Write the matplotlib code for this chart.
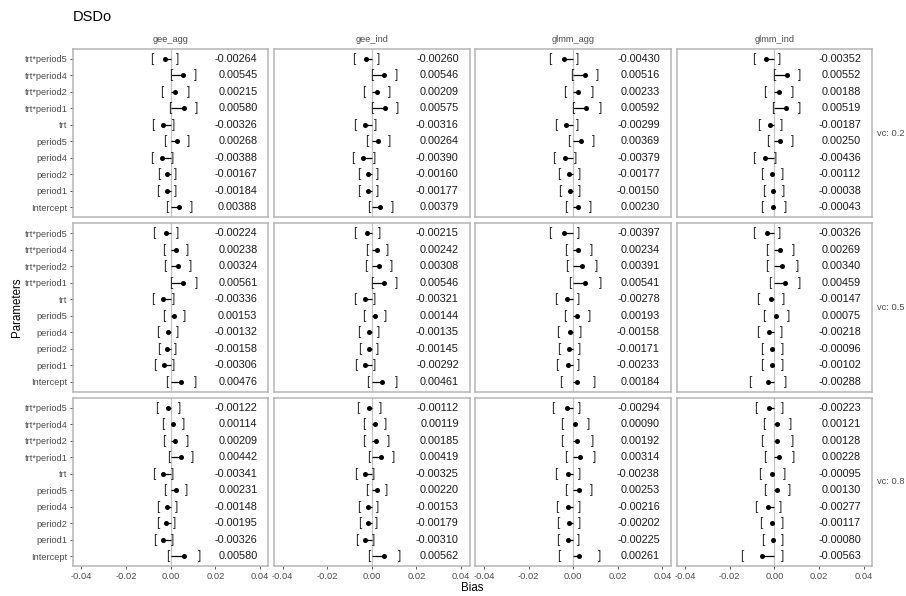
import numpy as np
import matplotlib
matplotlib.use("Agg")
import matplotlib.pyplot as plt

plt.rcParams['font.family'] = ['Liberation Sans', 'DejaVu Sans']

# parameters, listed top to bottom as they appear in each panel
params = ["trt*period5", "trt*period4", "trt*period2", "trt*period1", "trt",
          "period5", "period4", "period2", "period1", "Intercept"]
methods = ["gee_agg", "gee_ind", "glmm_agg", "glmm_ind"]
vc_labels = ["vc: 0.2", "vc: 0.5", "vc: 0.8"]

# bias estimates (rows = vc, one list per method)
bias_vc02 = {
    "gee_agg": [-0.00264, 0.00545, 0.00215, 0.00580, -0.00326, 0.00268, -0.00388, -0.00167, -0.00184, 0.00388],
    "gee_ind": [-0.00260, 0.00546, 0.00209, 0.00575, -0.00316, 0.00264, -0.00390, -0.00160, -0.00177, 0.00379],
    "glmm_agg": [-0.00430, 0.00516, 0.00233, 0.00592, -0.00299, 0.00369, -0.00379, -0.00177, -0.00150, 0.00230],
    "glmm_ind": [-0.00352, 0.00552, 0.00188, 0.00519, -0.00187, 0.00250, -0.00436, -0.00112, -0.00038, -0.00043],
}
bias_vc05 = {
    "gee_agg": [-0.00224, 0.00238, 0.00324, 0.00561, -0.00336, 0.00153, -0.00132, -0.00158, -0.00306, 0.00476],
    "gee_ind": [-0.00215, 0.00242, 0.00308, 0.00546, -0.00321, 0.00144, -0.00135, -0.00145, -0.00292, 0.00461],
    "glmm_agg": [-0.00397, 0.00234, 0.00391, 0.00541, -0.00278, 0.00193, -0.00158, -0.00171, -0.00233, 0.00184],
    "glmm_ind": [-0.00326, 0.00269, 0.00340, 0.00459, -0.00147, 0.00075, -0.00218, -0.00096, -0.00102, -0.00288],
}
bias_vc08 = {
    "gee_agg": [-0.00122, 0.00114, 0.00209, 0.00442, -0.00341, 0.00231, -0.00148, -0.00195, -0.00326, 0.00580],
    "gee_ind": [-0.00112, 0.00119, 0.00185, 0.00419, -0.00325, 0.00220, -0.00153, -0.00179, -0.00310, 0.00562],
    "glmm_agg": [-0.00294, 0.00090, 0.00192, 0.00314, -0.00238, 0.00253, -0.00216, -0.00202, -0.00225, 0.00261],
    "glmm_ind": [-0.00223, 0.00121, 0.00128, 0.00228, -0.00095, 0.00130, -0.00277, -0.00117, -0.00080, -0.00563],
}

# half width of the interval shown by the brackets
half_vc02 = {
    "gee_agg": [0.0057, 0.0056, 0.0060, 0.0060, 0.0047, 0.0052, 0.0048, 0.0039, 0.0039, 0.0055],
    "gee_ind": [0.0057, 0.0054, 0.0058, 0.0057, 0.0047, 0.0051, 0.0049, 0.0041, 0.0041, 0.0053],
    "glmm_agg": [0.0061, 0.0056, 0.0063, 0.0062, 0.0049, 0.0056, 0.0051, 0.0045, 0.0045, 0.0054],
    "glmm_ind": [0.0058, 0.0058, 0.0061, 0.0060, 0.0049, 0.0055, 0.0049, 0.0046, 0.0043, 0.0054],
}
half_vc05 = {
    "gee_agg": [0.0054, 0.0053, 0.0057, 0.0058, 0.0045, 0.0048, 0.0043, 0.0039, 0.0042, 0.0064],
    "gee_ind": [0.0055, 0.0046, 0.0057, 0.0057, 0.0045, 0.0049, 0.0044, 0.0042, 0.0041, 0.0063],
    "glmm_agg": [0.0063, 0.0058, 0.0068, 0.0069, 0.0052, 0.0055, 0.0051, 0.0048, 0.0049, 0.0076],
    "glmm_ind": [0.0058, 0.0061, 0.0069, 0.0068, 0.0058, 0.0057, 0.0054, 0.0046, 0.0046, 0.0080],
}
half_vc08 = {
    "gee_agg": [0.0051, 0.0046, 0.0054, 0.0054, 0.0041, 0.0048, 0.0043, 0.0038, 0.0039, 0.0070],
    "gee_ind": [0.0050, 0.0048, 0.0055, 0.0054, 0.0041, 0.0046, 0.0042, 0.0038, 0.0038, 0.0069],
    "glmm_agg": [0.0060, 0.0061, 0.0068, 0.0066, 0.0052, 0.0057, 0.0052, 0.0048, 0.0047, 0.0092],
    "glmm_ind": [0.0060, 0.0060, 0.0071, 0.0065, 0.0054, 0.0057, 0.0056, 0.0049, 0.0046, 0.0092],
}

bias_rows = [bias_vc02, bias_vc05, bias_vc08]
half_rows = [half_vc02, half_vc05, half_vc08]

xticks = [-0.04, -0.02, 0.00, 0.02, 0.04]
xtick_labels = ["-0.04", "-0.02", "0.00", "0.02", "0.04"]

grey_txt = '#4d4d4d'
border = '#b5b5b5'

fig, axes = plt.subplots(3, 4, figsize=(9.06, 5.96), dpi=100, sharex=True, sharey=True)
fig.subplots_adjust(left=73 / 906, right=872 / 906, top=1 - 49 / 596, bottom=1 - 566 / 596,
                    wspace=0.03, hspace=0.037)

ypos = np.arange(len(params))[::-1] + 1  # top parameter gets the highest y

for r in range(3):
    for c, m in enumerate(methods):
        ax = axes[r, c]
        est = np.array(bias_rows[r][m])
        hw = np.array(half_rows[r][m])

        ax.axvline(0, color='#c4c4c4', lw=0.9, zorder=1)
        ax.hlines(ypos, 0, est, color='black', lw=0.9, zorder=2)
        ax.scatter(est, ypos, s=13, color='black', zorder=3, linewidths=0)
        for y, e, h in zip(ypos, est, hw):
            ax.text(e - h, y, "[", ha='center', va='center', fontsize=8.3, color='#222222')
            ax.text(e + h, y, "]", ha='center', va='center', fontsize=8.3, color='#222222')
            ax.text(0.0389, y, f"{e:.5f}", ha='right', va='center', fontsize=7.8, color='#1a1a1a')

        ax.set_xlim(-0.0438, 0.0438)
        ax.set_ylim(0.4, len(params) + 0.6)
        for s in ax.spines.values():
            s.set_color(border)
            s.set_linewidth(1.1)
        ax.tick_params(length=2.5, width=0.7, color='#555555', labelsize=6.7,
                       labelcolor=grey_txt, pad=1.5)
        ax.tick_params(axis='x', bottom=(r == 2))
        ax.tick_params(axis='y', left=(c == 0))

        if r == 0:
            ax.set_title(m, fontsize=6.7, color=grey_txt, pad=5)
        if c == 3:
            ax.text(1.025, 0.5, vc_labels[r], transform=ax.transAxes, ha='left',
                    va='center', fontsize=6.7, color=grey_txt)

axes[0, 0].set_yticks(ypos)
axes[0, 0].set_yticklabels(params)
axes[0, 0].set_xticks(xticks)
for ax in axes[2]:
    ax.set_xticklabels(xtick_labels)

fig.text(73 / 906, 1 - 17 / 596, "DSDo", ha='left', va='center', fontsize=10.5)
fig.text(472.5 / 906, 1 - 588 / 596, "Bias", ha='center', va='center', fontsize=8.3)
fig.text(17 / 906, 1 - 307 / 596, "Parameters", ha='center', va='center',
         rotation=90, fontsize=8.3)

fig.savefig("out.png", dpi=100)
